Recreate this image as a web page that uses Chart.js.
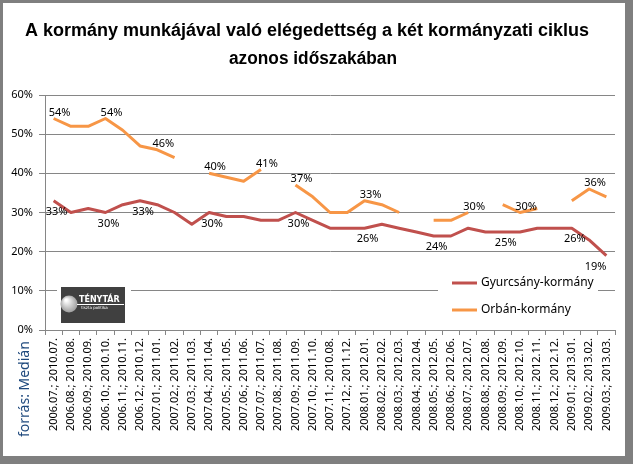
<!DOCTYPE html>
<html>
<head>
<meta charset="utf-8">
<script src="https://cdn.jsdelivr.net/npm/chart.js@4/dist/chart.umd.min.js"></script>
<style>
    html, body { margin: 0; padding: 0; background: #fff; }
    canvas { display: block; }
</style>
</head>
<body>
<canvas id="chart" width="633" height="464"></canvas>
<script>
const categories = [
    '2006.07.; 2010.07.', '2006.08.; 2010.08.', '2006.09.; 2010.09.', '2006.10.; 2010.10.',
    '2006.11.; 2010.11.', '2006.12.; 2010.12.', '2007.01.; 2011.01.', '2007.02.; 2011.02.',
    '2007.03.; 2011.03.', '2007.04.; 2011.04.', '2007.05.; 2011.05.', '2007.06.; 2011.06.',
    '2007.07.; 2011.07.', '2007.08.; 2011.08.', '2007.09.; 2011.09.', '2007.10.; 2011.10.',
    '2007.11.; 2010.08.', '2007.12.; 2011.12.', '2008.01.; 2012.01.', '2008.02.; 2012.02.',
    '2008.03.; 2012.03.', '2008.04.; 2012.04.', '2008.05.; 2012.05.', '2008.06.; 2012.06.',
    '2008.07.; 2012.07.', '2008.08.; 2012.08.', '2008.09.; 2012.09.', '2008.10.; 2012.10.',
    '2008.11.; 2012.11.', '2008.12.; 2012.12.', '2009.01.; 2013.01.', '2009.02.; 2013.02.',
    '2009.03.; 2013.03.'
];

const gyurcsany = [33, 30, 31, 30, 32, 33, 32, 30, 27, 30, 29, 29, 28, 28, 30, 28, 26,
                   26, 26, 27, 26, 25, 24, 24, 26, 25, 25, 25, 26, 26, 26, 23, 19];
const orban = [54, 52, 52, 54, 51, 47, 46, 44, null, 40, 39, 38, 41, null, 37, 34, 30,
               30, 33, 32, 30, null, 28, 28, 30, null, 32, 30, 31, null, 33, 36, 34];

// which points carry a value label
const gyurcsanyLabelAt = [0, 3, 5, 9, 14, 18, 22, 26, 30, 32];
const orbanLabelAt = [0, 3, 6, 9, 12, 14, 18, 24, 27, 31];

const yTicks = [0, 10, 20, 30, 40, 50, 60];

const titleLines = ['A kormány munkájával való elégedettség a két kormányzati ciklus', 'azonos időszakában'];
const sourceText = 'forrás: Medián';
const RED = '#c0504d';
const ORANGE = '#f79646';
const GRID = '#868686';

const frame = {
    id: 'frame',
    beforeDraw(chart) {
        const ctx = chart.ctx;
        const w = chart.width, h = chart.height;
        ctx.save();
        ctx.fillStyle = '#fff';
        ctx.fillRect(0, 0, w, h);
        ctx.fillStyle = '#7f7f7f';
        ctx.fillRect(0, 0, w, 3);
        ctx.fillRect(0, 0, 3, h);
        ctx.fillRect(w - 8, 0, 8, h);
        ctx.fillRect(0, h - 8, w, 8);

        // title
        ctx.fillStyle = '#000';
        ctx.font = 'bold 18px "Liberation Sans"';
        ctx.textAlign = 'center';
        ctx.textBaseline = 'middle';
        ctx.fillText(titleLines[0], 307, 31, 568);
        ctx.fillText(titleLines[1], 313, 59, 168);

        // source
        ctx.translate(25, 437);
        ctx.rotate(-Math.PI / 2);
        ctx.fillStyle = '#1f497d';
        ctx.font = '14px "Noto Sans"';
        ctx.textAlign = 'left';
        ctx.fillText(sourceText, 0, 0);
        ctx.restore();
    }
};

const overlays = {
    id: 'overlays',
    beforeDatasetsDraw(chart) {
        const ctx = chart.ctx;
        ctx.save();
        // logo
        ctx.fillStyle = '#fff';
        ctx.fillRect(57, 282, 74, 45);
        ctx.fillStyle = '#404040';
        ctx.fillRect(61, 287, 64, 36);
        const g = ctx.createRadialGradient(66, 300, 1, 69, 304, 9);
        g.addColorStop(0, '#ffffff');
        g.addColorStop(1, '#9a9a9a');
        ctx.fillStyle = g;
        ctx.beginPath();
        ctx.arc(69, 304, 8.5, 0, Math.PI * 2);
        ctx.fill();
        ctx.fillStyle = '#fff';
        ctx.font = 'bold 8px "DejaVu Sans"';
        ctx.textBaseline = 'middle';
        ctx.fillText('TÉNYTÁR', 79, 300, 44);
        ctx.fillRect(77, 304, 47, 1);
        ctx.font = '4px "DejaVu Sans"';
        ctx.fillText('tiszta politika', 81, 308, 36);

        // legend
        ctx.fillStyle = '#fff';
        ctx.fillRect(438, 262, 160, 64);
        chart.data.datasets.forEach((ds, i) => {
            const y = 283 + i * 27;
            ctx.strokeStyle = ds.borderColor;
            ctx.lineWidth = 3;
            ctx.beginPath();
            ctx.moveTo(452, y);
            ctx.lineTo(477, y);
            ctx.stroke();
            ctx.fillStyle = '#000';
            ctx.font = '12px "Noto Sans"';
            ctx.fillText(ds.label, 481, y);
        });
        ctx.restore();
    },
    afterDatasetsDraw(chart) {
        const ctx = chart.ctx;
        ctx.save();
        ctx.font = '11px "Noto Sans"';
        ctx.fillStyle = '#000';
        ctx.textAlign = 'center';
        ctx.textBaseline = 'middle';
        chart.data.datasets.forEach((ds, i) => {
            const meta = chart.getDatasetMeta(i);
            ds.labelAt.forEach((idx) => {
                const pt = meta.data[idx];
                const text = ds.data[idx] + '%';
                const w = ctx.measureText(text).width;
                let x = ds.labelAbove ? pt.x + 6 : pt.x + 3;
                const y = ds.labelAbove ? pt.y - 6 : pt.y + 11;
                if (x + w / 2 > chart.chartArea.right) {
                    x = pt.x - w / 2;
                }
                ctx.fillText(text, x, y);
            });
        });
        ctx.restore();
    }
};

new Chart(document.getElementById('chart'), {
    type: 'line',
    data: {
        labels: categories,
        datasets: [
            {
                label: 'Gyurcsány-kormány',
                data: gyurcsany,
                borderColor: RED,
                labelAt: gyurcsanyLabelAt,
                labelAbove: false,
            },
            {
                label: 'Orbán-kormány',
                data: orban,
                borderColor: ORANGE,
                labelAt: orbanLabelAt,
                labelAbove: true,
            },
        ],
    },
    options: {
        responsive: false,
        animation: false,
        devicePixelRatio: 1,
        layout: {
            padding: { top: 95, right: 18, bottom: 0, left: 0 },
        },
        elements: {
            line: { borderWidth: 3, tension: 0, spanGaps: false, borderCapStyle: 'butt', borderJoinStyle: 'round' },
            point: { radius: 0, hoverRadius: 0 },
        },
        scales: {
            x: {
                offset: true,
                grid: {
                    display: true,
                    drawOnChartArea: false,
                    drawTicks: true,
                    tickLength: 5,
                    color: GRID,
                    offset: true,
                },
                border: { display: true, color: GRID, width: 1 },
                ticks: {
                    autoSkip: false,
                    minRotation: 90,
                    maxRotation: 90,
                    padding: 3,
                    color: '#000',
                    font: { family: '"Noto Sans"', size: 11 },
                },
                afterFit: (scale) => { scale.height = 134; },
            },
            y: {
                min: 0,
                max: 60,
                afterBuildTicks: (scale) => {
                    scale.ticks = yTicks.map((v) => ({ value: v }));
                },
                grid: {
                    color: GRID,
                    tickLength: 6,
                    drawTicks: true,
                },
                border: { display: true, color: GRID, width: 1 },
                ticks: {
                    padding: 6,
                    color: '#000',
                    font: { family: '"Noto Sans"', size: 11 },
                    callback: (value) => value + '%',
                },
                afterFit: (scale) => { scale.width = 45; },
            },
        },
        plugins: {
            legend: { display: false },
            title: { display: false },
            tooltip: { enabled: false },
        },
    },
    plugins: [frame, overlays],
});
</script>
</body>
</html>
